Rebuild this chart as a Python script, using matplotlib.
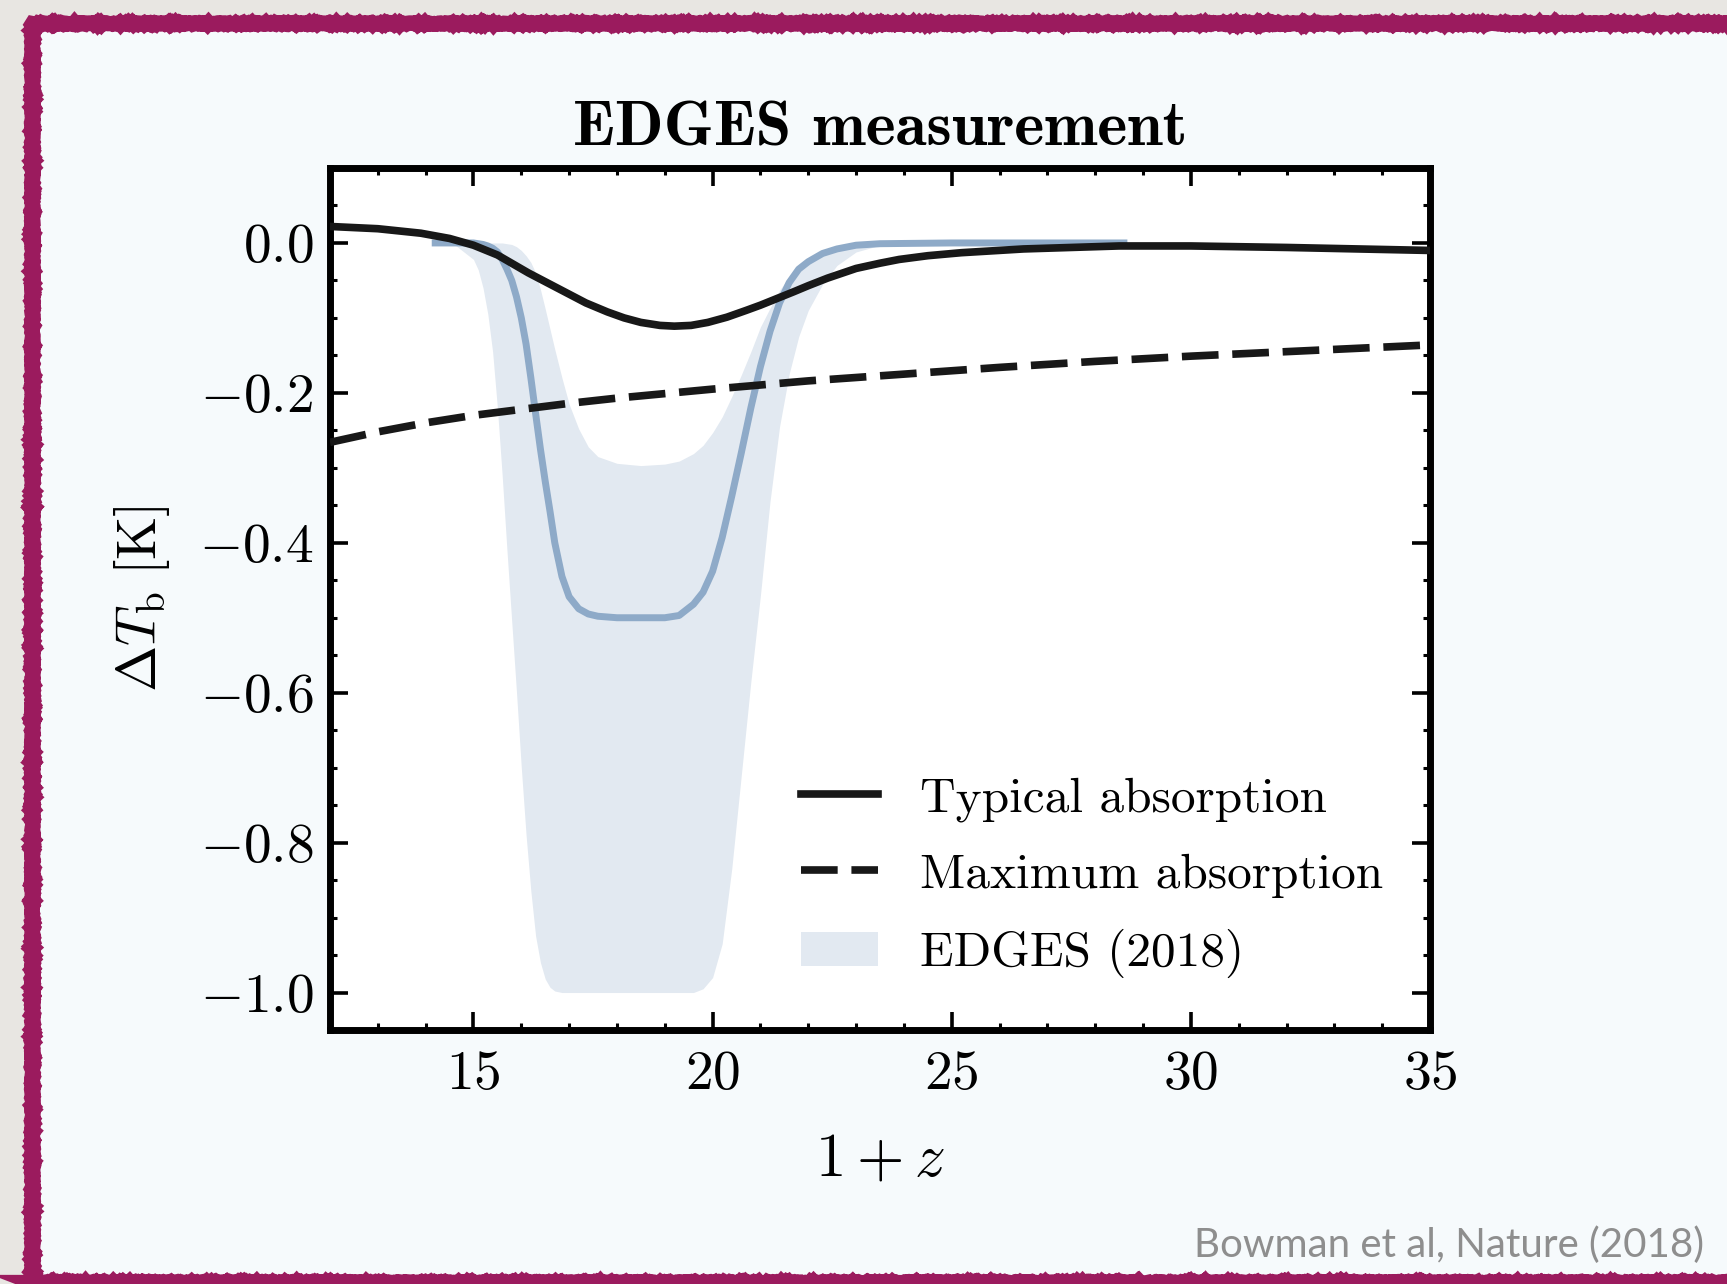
import matplotlib
matplotlib.use("Agg")
import matplotlib.pyplot as plt
from matplotlib.patches import Rectangle
from matplotlib.ticker import MultipleLocator, FormatStrFormatter

# typical absorption signal (solid)
z_typ = [12.0, 13.0, 13.9, 14.5, 15.0, 15.5, 16.15, 16.75, 17.35, 17.8, 18.15, 18.5,
         18.9, 19.2, 19.55, 19.9, 20.3, 20.7, 21.0, 21.35, 21.7, 22.0, 22.4, 23.0,
         23.5, 23.9, 24.5, 25.2, 26.5, 28.5, 30.0, 32.0, 35.0]
T_typ = [0.022, 0.019, 0.013, 0.006, -0.003, -0.016, -0.040, -0.060, -0.080, -0.092, -0.100, -0.106,
         -0.110, -0.111, -0.110, -0.106, -0.099, -0.090, -0.083, -0.074, -0.065, -0.057, -0.047, -0.034,
         -0.027, -0.022, -0.017, -0.013, -0.008, -0.004, -0.004, -0.006, -0.010]

# maximum absorption (dashed)
z_max = [12, 13, 14, 15, 16, 17, 18, 19, 20, 22, 24, 26, 28, 30, 32, 35]
T_max = [-0.266, -0.252, -0.240, -0.230, -0.222, -0.214, -0.207, -0.201, -0.195,
         -0.184, -0.175, -0.166, -0.158, -0.151, -0.145, -0.136]

# EDGES (2018): band and best fit
z_edges = [14.2, 14.6, 15.0, 15.1, 15.2, 15.3, 15.4, 15.5, 15.6, 15.7, 15.8, 15.9,
           16.0, 16.1, 16.2, 16.3, 16.4, 16.5, 16.6, 16.7, 16.85, 17.0, 17.2, 17.4,
           17.6, 18.0, 18.5, 19.0, 19.3, 19.6, 19.8, 20.0, 20.2, 20.4, 20.6, 20.8,
           21.0, 21.2, 21.4, 21.6, 21.8, 22.0, 22.3, 22.6, 23.0, 23.5, 25.0, 28.6]
T_low = [0.0, -0.002, -0.022, -0.036, -0.060, -0.095, -0.145, -0.22, -0.31, -0.41, -0.505, -0.60,
         -0.70, -0.79, -0.865, -0.925, -0.96, -0.982, -0.993, -0.998, -1.0, -1.0, -1.0, -1.0,
         -1.0, -1.0, -1.0, -1.0, -1.0, -1.0, -0.995, -0.98, -0.935, -0.835, -0.71, -0.585,
         -0.47, -0.345, -0.245, -0.175, -0.125, -0.09, -0.055, -0.03, -0.012, -0.003, 0.0, 0.0]
T_up = [0.0, 0.0, 0.0, 0.0, 0.0, 0.0, 0.0, 0.0, 0.0, -0.001, -0.002, -0.005,
        -0.010, -0.017, -0.026, -0.040, -0.062, -0.088, -0.115, -0.142, -0.180, -0.215, -0.248, -0.272,
        -0.285, -0.294, -0.297, -0.295, -0.291, -0.281, -0.270, -0.253, -0.232, -0.205, -0.176, -0.145,
        -0.112, -0.087, -0.063, -0.045, -0.031, -0.021, -0.011, -0.005, -0.001, 0.0, 0.0, 0.0]
T_fit = [0.0, 0.0, 0.0, -0.001, -0.002, -0.004, -0.007, -0.012, -0.022, -0.035, -0.050, -0.072,
         -0.100, -0.135, -0.180, -0.228, -0.275, -0.318, -0.358, -0.400, -0.445, -0.472, -0.488, -0.495,
         -0.498, -0.5, -0.5, -0.5, -0.497, -0.482, -0.466, -0.438, -0.393, -0.338, -0.280, -0.220,
         -0.165, -0.118, -0.080, -0.053, -0.035, -0.025, -0.014, -0.008, -0.003, -0.001, 0.0, 0.0]

plt.rcParams['font.family'] = 'cmr10'
plt.rcParams['mathtext.fontset'] = 'cm'
plt.rcParams['axes.formatter.use_mathtext'] = True

fig = plt.figure(figsize=(17.27, 12.84), dpi=100, facecolor='#e8e6e2')

# slide frame
frame = Rectangle((32 / 1727, 2 / 1284), 1.1, 1 - 24.5 / 1284, transform=fig.transFigure,
                  facecolor='#f6fafc', edgecolor='#9b1b5e', linewidth=11, zorder=-10)
frame.set_sketch_params(scale=0.6, length=3, randomness=3)
fig.add_artist(frame)

ax = fig.add_axes([330 / 1727, 1 - 1030 / 1284, 1100 / 1727, 862 / 1284])
ax.set_facecolor('white')

ax.fill_between(z_edges, T_low, T_up, color='#e2e9f1', lw=0, label='EDGES (2018)', zorder=1)
ax.plot(z_edges, T_fit, color='#8eaac8', lw=5, zorder=2)
ax.plot(z_typ, T_typ, color='#181818', lw=5.5, label='Typical absorption', zorder=3)
ax.plot(z_max, T_max, color='#181818', lw=5.5, dashes=(4.8, 1.8), label='Maximum absorption', zorder=3)

ax.set_xlim(12, 35)
ax.set_ylim(-1.05, 0.1)
ax.xaxis.set_major_locator(MultipleLocator(5))
ax.xaxis.set_minor_locator(MultipleLocator(1))
ax.yaxis.set_major_locator(MultipleLocator(0.2))
ax.yaxis.set_minor_locator(MultipleLocator(0.05))
ax.yaxis.set_major_formatter(FormatStrFormatter(r'$%.1f$'))
ax.xaxis.set_major_formatter(FormatStrFormatter(r'$%d$'))
ax.tick_params(which='both', direction='in', top=True, right=True)
ax.tick_params(which='major', length=13, width=2.6, labelsize=40)
ax.tick_params(axis='x', which='major', pad=15)
ax.tick_params(axis='y', which='major', pad=12)
ax.tick_params(which='minor', length=4.8, width=2.2)
for s in ax.spines.values():
    s.set_linewidth(5)

ax.set_title('EDGES measurement', fontfamily='cmb10', fontsize=46, pad=16)
ax.set_xlabel(r'$1+z$', fontsize=44)
ax.set_ylabel(r'$\Delta T_{\rm b}\;[{\rm K}]$', fontsize=40)
ax.xaxis.set_label_coords(0.5, -0.118)
ax.yaxis.set_label_coords(-0.144, 0.5)

handles, labels = ax.get_legend_handles_labels()
order = [labels.index('Typical absorption'), labels.index('Maximum absorption'), labels.index('EDGES (2018)')]
ax.legend([handles[i] for i in order], [labels[i] for i in order],
          loc='upper left', bbox_to_anchor=(0.428, 0.294), frameon=False, fontsize=35.5,
          borderpad=0, borderaxespad=0, handlelength=1.56, handletextpad=0.85, labelspacing=0.64)

fig.text(1704 / 1727, 1 - 1257 / 1284, 'Bowman et al, Nature (2018)', ha='right', va='baseline',
         fontfamily='Lato', fontsize=29, color='#8e8e8e')

fig.savefig('out.png', dpi=100, facecolor=fig.get_facecolor())
